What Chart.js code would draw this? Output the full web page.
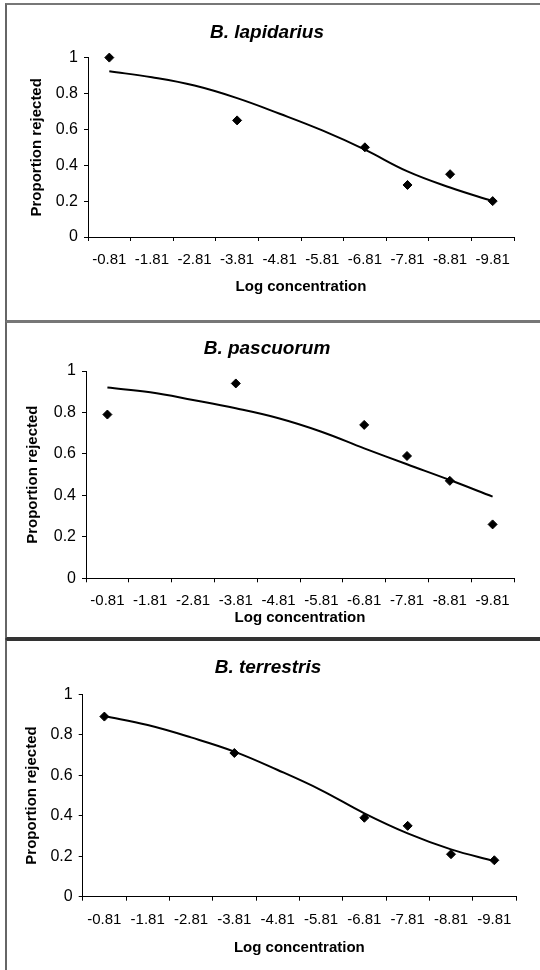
<!DOCTYPE html>
<html>
<head>
<meta charset="utf-8">
<script src="https://cdn.jsdelivr.net/npm/chart.js@4.4.0/dist/chart.umd.min.js"></script>
<style>
  body { margin: 0; background: #fff; width: 540px; height: 970px; overflow: hidden; position: relative; }
  canvas { position: absolute; left: 0; }
  .frame { position: absolute; left: 5px; width: 560px; border-left: 2px solid #666; border-top: 2px solid #777; pointer-events: none; box-sizing: border-box; }
</style>
</head>
<body>
<canvas id="c1" width="540" height="316" style="top:4px"></canvas>
<canvas id="c2" width="540" height="314" style="top:323px"></canvas>
<canvas id="c3" width="540" height="329" style="top:641px"></canvas>
<div class="frame" style="top:3px;height:319px;border-bottom:2px solid #777"></div>
<div class="frame" style="top:321px;height:318px;border-bottom:2px solid #333"></div>
<div class="frame" style="top:639px;height:340px;border-top:2px solid #333"></div>
<script>
// shared categories (log concentration)
const categories = ['-0.81', '-1.81', '-2.81', '-3.81', '-4.81', '-5.81', '-6.81', '-7.81', '-8.81', '-9.81'];
const yTicks = [0, 0.2, 0.4, 0.6, 0.8, 1];

// B. lapidarius
const lapidariusObs = [1.0, null, null, 0.65, null, null, 0.5, 0.29, 0.35, 0.2];
const lapidariusFit = [0.924, 0.89, 0.844, 0.774, 0.687, 0.594, 0.487, 0.366, 0.276, 0.2];

// B. pascuorum
const pascuorumObs = [0.79, null, null, 0.94, null, null, 0.74, 0.59, 0.47, 0.26];
const pascuorumFit = [0.92, 0.897, 0.86, 0.82, 0.772, 0.707, 0.627, 0.55, 0.474, 0.394];

// B. terrestris
const terrestrisObs = [0.89, null, null, 0.71, null, null, 0.39, 0.35, 0.21, 0.18];
const terrestrisFit = [0.893, 0.848, 0.787, 0.717, 0.626, 0.527, 0.412, 0.313, 0.234, 0.176];

const FONT = '"Liberation Sans", Arial, sans-serif';

function makeChart(id, title, obs, fit, g) {
  return new Chart(document.getElementById(id), {
    type: 'line',
    data: {
      labels: categories,
      datasets: [
        {
          label: 'fit',
          data: fit,
          borderColor: '#000',
          borderWidth: 2,
          pointRadius: 0,
          tension: 0.4,
          fill: false
        },
        {
          label: 'observed',
          data: obs,
          showLine: false,
          clip: false,
          pointStyle: 'rectRot',
          pointRadius: 4.5,
          pointBackgroundColor: '#000',
          pointBorderColor: '#000',
          pointBorderWidth: 1
        }
      ]
    },
    options: {
      responsive: false,
      animation: false,
      layout: { padding: { left: g.left, right: g.right, top: 0, bottom: 0 } },
      plugins: {
        legend: { display: false },
        tooltip: { enabled: false },
        title: {
          display: true,
          text: title,
          color: '#000',
          font: { family: FONT, size: 19, weight: 'bold', style: 'italic', lineHeight: 1.2 },
          padding: { top: g.titleTop, bottom: g.titleBottom }
        }
      },
      scales: {
        x: {
          type: 'category',
          offset: true,
          grid: { offset: true, drawOnChartArea: false, drawTicks: true, tickLength: 4, color: '#000' },
          border: { display: true, color: '#000', width: 1 },
          ticks: { color: '#000', padding: 10, maxRotation: 0, autoSkip: false, font: { family: FONT, size: 15 } },
          title: {
            display: true,
            text: 'Log concentration',
            color: '#000',
            font: { family: FONT, size: 15, weight: 'bold', lineHeight: 1.2 },
            padding: { top: 0, bottom: g.xTitleBottom }
          },
          afterFit: function(scale) { scale.height = g.xHeight; }
        },
        y: {
          min: 0,
          max: 1,
          grid: { drawOnChartArea: false, drawTicks: true, tickLength: 4, color: '#000' },
          border: { display: true, color: '#000', width: 1 },
          afterBuildTicks: function(scale) { scale.ticks = yTicks.map(v => ({ value: v })); },
          ticks: {
            color: '#000',
            padding: 6,
            font: { family: FONT, size: 16 },
            callback: function(v) { return String(+v.toFixed(1)); }
          },
          title: {
            display: true,
            text: 'Proportion rejected',
            color: '#000',
            font: { family: FONT, size: 15, weight: 'bold', lineHeight: 1.2 },
            padding: { top: g.yTitleTop, bottom: 0 }
          },
          afterFit: function(scale) { scale.width = g.yWidth; }
        }
      }
    }
  });
}

makeChart('c1', 'B. lapidarius', lapidariusObs, lapidariusFit,
  { left: 20, right: 26, titleTop: 17.6, titleBottom: 13.2, xHeight: 83, xTitleBottom: 24, yWidth: 68, yTitleTop: 7.7 });
makeChart('c2', 'B. pascuorum', pascuorumObs, pascuorumFit,
  { left: 20, right: 26, titleTop: 14, titleBottom: 11.2, xHeight: 58.7, xTitleBottom: 9.7, yWidth: 66, yTitleTop: 4.3 });
makeChart('c3', 'B. terrestris', terrestrisObs, terrestrisFit,
  { left: 20, right: 24, titleTop: 15, titleBottom: 15.5, xHeight: 73.3, xTitleBottom: 12.7, yWidth: 62.7, yTitleTop: 2.7 });
</script>
</body>
</html>
